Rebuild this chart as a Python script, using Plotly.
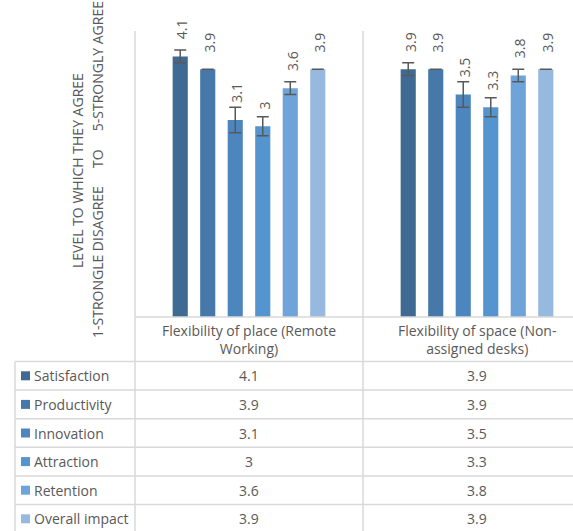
import plotly.graph_objects as go

# datos
categorias = ["Flexibility of place (Remote Working)", "Flexibility of space (Non-assigned desks)"]
etiquetas_cat = ["Flexibility of place (Remote<br>Working)", "Flexibility of space (Non-<br>assigned desks)"]
metricas = ["Satisfaction", "Productivity", "Innovation", "Attraction", "Retention", "Overall impact"]
valores_lugar = [4.1, 3.9, 3.1, 3.0, 3.6, 3.9]
valores_espacio = [3.9, 3.9, 3.5, 3.3, 3.8, 3.9]
error_lugar = [0.1, 0.0, 0.2, 0.15, 0.1, 0.0]
error_espacio = [0.1, 0.0, 0.2, 0.15, 0.1, 0.0]

colores = ["#3f6a94", "#4679aa", "#4d86be", "#5494cf", "#6ea4d9", "#97b9e0"]
gris_texto = "#595959"
gris_linea = "#d9d9d9"
fuente = "Open Sans"
tam = 14

# geometria (pixeles de la figura)
ANCHO, ALTO = 573, 531
IZQ, ARRIBA, BASE = 135, 31, 317
ANCHO_PLOT = ANCHO - IZQ
ALTO_PLOT = BASE - ARRIBA
ANCHO_CAT = 228
rango_x = [-0.5, -0.5 + ANCHO_PLOT / ANCHO_CAT]


def px(X):
    return (X - IZQ) / ANCHO_PLOT


def py(Y):
    return (BASE - Y) / ALTO_PLOT


fig = go.Figure()

for i, m in enumerate(metricas):
    fig.add_trace(
        go.Bar(
            x=categorias,
            y=[valores_lugar[i], valores_espacio[i]],
            name=m,
            marker=dict(color=colores[i], line=dict(width=0)),
            error_y=dict(
                type="data",
                array=[error_lugar[i], error_espacio[i]],
                color=gris_texto,
                thickness=1.5,
                width=6
            ),
            hoverinfo="skip",
            showlegend=False
        )
    )

anotaciones = []
formas = []

# etiquetas de valor rotadas
for i in range(len(metricas)):
    for c, vals in zip(categorias, [valores_lugar, valores_espacio]):
        anotaciones.append(dict(
            x=c, y=vals[i], xref="x", yref="y",
            xshift=(i - 2.5) * 27.5 + 1.5, yshift=15,
            text=f"{vals[i]:g}", textangle=-90,
            showarrow=False, xanchor="center", yanchor="bottom",
            font=dict(family=fuente, size=tam, color=gris_texto)
        ))

# titulo del eje Y
anotaciones.append(dict(
    x=px(77), y=py(171), xref="paper", yref="paper",
    xanchor="center", yanchor="middle",
    text="LEVEL TO WHICH THEY AGREE", textangle=-90, showarrow=False,
    font=dict(family=fuente, size=tam, color=gris_texto)
))
anotaciones.append(dict(
    x=px(97), y=py(170), xref="paper", yref="paper",
    xanchor="center", yanchor="middle",
    text="1-STRONGLE DISAGREE" + "\u00a0" * 5 + "TO" + "\u00a0" * 5 + "5-STRONGLY AGREE",
    textangle=-90, showarrow=False,
    font=dict(family=fuente, size=tam, color=gris_texto)
))

# tabla de datos
FILA0 = 361.5
ALTO_FILA = 28.6
n = len(metricas)

for c, etq in zip(categorias, etiquetas_cat):
    anotaciones.append(dict(
        x=c, y=py((BASE + FILA0) / 2), xref="x", yref="paper",
        xanchor="center", yanchor="middle",
        text=etq, showarrow=False,
        font=dict(family=fuente, size=tam, color=gris_texto)
    ))

for i, m in enumerate(metricas):
    yc = FILA0 + (i + 0.5) * ALTO_FILA
    anotaciones.append(dict(
        x=px(32), y=py(yc), xref="paper", yref="paper",
        xanchor="left", yanchor="middle",
        text=m, showarrow=False,
        font=dict(family=fuente, size=tam, color=gris_texto)
    ))
    formas.append(dict(
        type="rect", xref="paper", yref="paper",
        x0=px(21), x1=px(30), y0=py(yc - 4.5), y1=py(yc + 4.5),
        fillcolor=colores[i], line=dict(width=0)
    ))
    for c, vals in zip(categorias, [valores_lugar, valores_espacio]):
        anotaciones.append(dict(
            x=c, y=py(yc), xref="x", yref="paper",
            xanchor="center", yanchor="middle",
            text=f"{vals[i]:g}", showarrow=False,
            font=dict(family=fuente, size=tam, color=gris_texto)
        ))

linea = dict(color=gris_linea, width=1.5)
fondo = py(ALTO + 10)

# lineas horizontales
formas.append(dict(type="line", xref="paper", yref="paper",
                   x0=0, x1=1.05, y0=0, y1=0, line=linea))
for k in range(n + 1):
    Y = FILA0 + k * ALTO_FILA
    formas.append(dict(type="line", xref="paper", yref="paper",
                       x0=px(15), x1=1.05, y0=py(Y), y1=py(Y), line=linea))

# lineas verticales
formas.append(dict(type="line", xref="paper", yref="paper",
                   x0=px(15), x1=px(15), y0=py(FILA0), y1=fondo, line=linea))
for k in range(len(categorias)):
    xb = (k - 0.5 - rango_x[0]) / (rango_x[1] - rango_x[0])
    formas.append(dict(type="line", xref="paper", yref="paper",
                       x0=xb, x1=xb, y0=1, y1=fondo, line=linea))

fig.update_layout(
    width=ANCHO,
    height=ALTO,
    template="plotly_white",
    paper_bgcolor="white",
    plot_bgcolor="white",
    barmode="group",
    bargap=0.276,
    bargroupgap=0.45,
    margin=dict(l=IZQ, r=0, t=ARRIBA, b=ALTO - BASE, pad=0),
    annotations=anotaciones,
    shapes=formas,
    font=dict(family=fuente, color=gris_texto)
)

fig.update_xaxes(range=rango_x, showticklabels=False, showgrid=False,
                 zeroline=False, showline=False)
fig.update_yaxes(range=[0, 4.5], showticklabels=False, showgrid=False,
                 zeroline=False, showline=False)

# sin margen del body para que la figura quede en (0, 0)
fig.write_html("out.html", config={"displayModeBar": False},
               post_script="document.body.style.margin='0';")
